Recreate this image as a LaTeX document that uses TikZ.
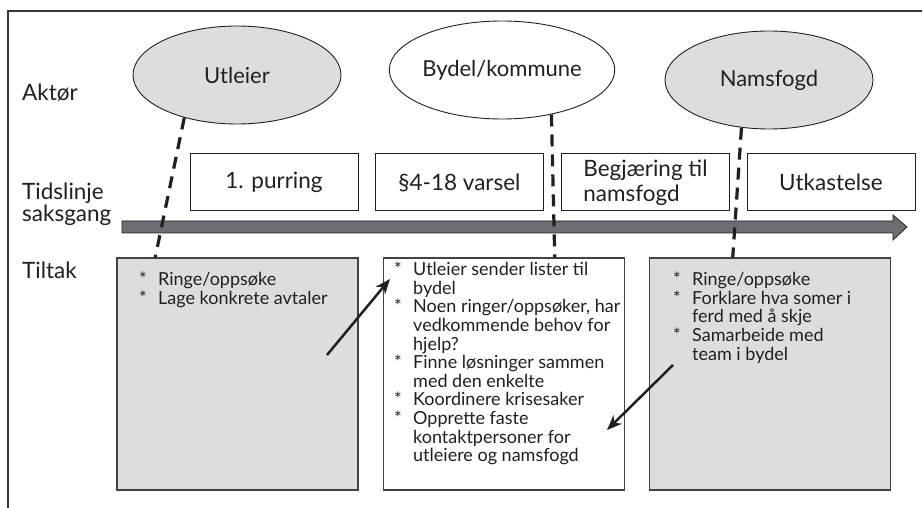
\documentclass[tikz,border=0pt]{standalone}
\usepackage{fontspec}
\setmainfont{Lato}
\usetikzlibrary{shapes.geometric,arrows.meta,calc}
\definecolor{boxgrey}{HTML}{DCDDDF}
\definecolor{bargrey}{HTML}{6D6E71}
\definecolor{ink}{HTML}{231F20}
\newcommand\itm[1]{\makebox[19pt][l]{*}#1}
\newcommand\cnt[1]{\hspace*{19pt}#1}
\begin{document}
\begin{tikzpicture}[x=1pt,y=-1pt,
 actor/.style={ellipse,draw=ink,line width=0.9pt,minimum width=208pt,minimum height=98pt,inner sep=0pt,font=\fontsize{22}{24}\selectfont,text=ink},
 phase/.style={draw=ink,line width=1pt,fill=white,minimum width=168pt,minimum height=57pt,inner sep=0pt,font=\fontsize{22.5}{25}\selectfont,text=ink,align=left},
 tbox/.style={draw=ink!85,line width=1.5pt,minimum width=241pt,minimum height=232pt,inner sep=0pt},
 rowlabel/.style={anchor=west,font=\fontsize{22.5}{22}\selectfont,text=ink,align=left,inner sep=0pt},
 list/.style={anchor=north west,inner sep=0pt,align=left,font=\fontsize{18}{18.6}\selectfont,text=ink},
 link/.style={line width=3.2pt,dash pattern=on 12pt off 8pt,draw=ink},
 pointer/.style={line width=2.5pt,draw=ink,-{Stealth[length=15pt,width=12pt]}},
]
\useasboundingbox (0,0) rectangle (922,508);
\clip (0,0) rectangle (922,508);
\fill[white] (0,0) rectangle (922,508);
% frame
\draw[line width=2pt,draw=ink!90] (8,530) -- (8,11.5) -- (940,11.5);
% actors
\node[actor,fill=boxgrey] (utl) at (237,75) {Utleier};
\node[actor,fill=white] (byd) at (502,70) {Bydel/kommune};
\node[actor,fill=boxgrey] (nam) at (769,80) {Namsfogd};
% row labels
\node[rowlabel] (aktor) at (22,93) {Aktør};
\node[rowlabel] (tid) at (22,204) {Tidslinje\\saksgang};
\node[rowlabel] (tilt) at (22,270) {Tiltak};
% phases
\node[phase] (ph1) at (274,182.5) {1. purring};
\node[phase] (ph2) at (459.5,182.5) {§4-18 varsel};
\node[phase] (ph3) at (645.5,182.5) {Begjæring til\\namsfogd};
\node[phase] (ph4) at (831,182.5) {Utkastelse};
% timeline arrow
\draw[fill=bargrey,draw=ink,line width=0.8pt] (122,221) -- (893,221) -- (893,215) -- (907,227) -- (893,240) -- (893,233) -- (122,233) -- cycle;
% measure boxes
\node[tbox,fill=boxgrey] (ta) at (237.5,374) {};
\node[tbox,fill=white] (tb) at (504,374) {};
\node[tbox,fill=boxgrey] (tc) at (770,374) {};
\node[list] (la) at (139,272) {\itm{Ringe/oppsøke}\\\itm{Lage konkrete avtaler}};
\node[list] (lb) at (394,262) {\itm{Utleier sender lister til}\\\cnt{bydel}\\\itm{Noen ringer/oppsøker, har}\\\cnt{vedkommende behov for}\\\cnt{hjelp?}\\\itm{Finne løsninger sammen}\\\cnt{med den enkelte}\\\itm{Koordinere krisesaker}\\\itm{Opprette faste}\\\cnt{kontaktpersoner for}\\\cnt{utleiere og namsfogd}};
\node[list] (lc) at (673,272) {\itm{Ringe/oppsøke}\\\itm{Forklare hva somer i}\\\cnt{ferd med å skje}\\\itm{Samarbeide med}\\\cnt{team i bydel}};
% dashed links
\draw[link] (utl.219) -- ($(ta.north west)+(39,0)$);
\draw[link] (byd.-42) -- ($(tb.north west)+(172,0)$);
\draw[link] (nam.240) -- ($(tc.north west)+(84,0)$);
% pointers
\coordinate (p1s) at (327,355);
\coordinate (p1e) at (390,279);
\coordinate (p2s) at (673,365);
\coordinate (p2e) at (607,430);
\draw[pointer] (p1s) -- (p1e);
\draw[pointer] (p2s) -- (p2e);
\end{tikzpicture}
\end{document}
